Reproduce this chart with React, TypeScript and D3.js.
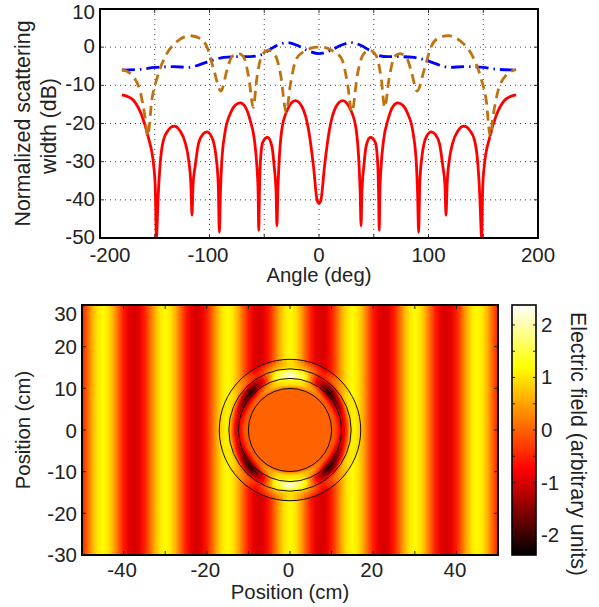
import React from "react";
import * as d3 from "d3";

// ---------- top panel data (left half, mirrored about 0 deg) ----------
const redAngles = [-180,-175,-169.5,-162,-156,-151,-149.5,-148.5,-147.5,-147,-145,-142,-137.5,-132.3,-127,-122,-119,-117,-116,-115,-113,-110,-106,-102.5,-98,-94,-92,-91,-90,-89,-86,-81,-76.5,-72,-67.4,-63,-59,-56.7,-55.6,-55,-54.4,-53.7,-51.5,-47,-43,-41,-39.2,-38.4,-37.6,-36.6,-34,-29,-21.6,-15.5,-9.5,-5,-1.8,0];
const redDb = [-12.5,-12.9,-13.9,-17.8,-23.5,-31,-37,-50,-44,-40,-30.4,-24.3,-21.7,-20.7,-21.9,-25.2,-29.6,-36,-44,-36,-31,-25.2,-22.8,-22.2,-23.5,-28.7,-36,-48.5,-38,-31,-22.6,-17.4,-15.2,-14.6,-15.6,-19,-24.3,-31.3,-38,-48,-38,-31,-25,-23.6,-26,-31,-38,-46.8,-38,-31,-21.7,-16.5,-14,-15.6,-21.7,-31.3,-40,-40.9];
const blueAngles = [-180,-163,-150,-133,-119,-110,-99.4,-87,-75,-63,-53.7,-46,-38,-29,-20,-11,0];
const blueDb = [-6,-5.8,-5.3,-5.1,-5.3,-4.7,-3.6,-2.7,-2.5,-2.5,-2.1,-0.8,0.5,1.2,0.5,-0.8,-1.7];
const brownAngles = [-180,-171,-163,-159,-156.4,-152.7,-148,-139,-130,-118,-108.5,-102.4,-96,-89.6,-84,-79.6,-73.5,-69,-64,-60,-57,-52,-46,-40,-35,-30,-26,-20.6,-11.5,-2.3,0];
const brownDb = [-5.8,-7.3,-12,-18,-23.3,-13.9,-8.2,-1.7,1.4,3,2.3,0.1,-6,-11.5,-6,-2.5,-1.7,-2.5,-8.2,-15.8,-8.6,-2.1,-0.8,-2.1,-7.3,-17,-9.5,-3,-0.8,0,0];
const angleTickLabels = [-200,-100,0,100,200];
const angleGrid = [-150,-100,-50,0,50,100,150];
const dbTicks = [10,0,-10,-20,-30,-40,-50];

// ---------- bottom panel data ----------
// field read across the stripes, every 1.25 cm from -50 cm to +50 cm
const stripeStep = 1.25;
const stripeField = [
  -0.55,0,0.59,1.02,1.18,1.02,0.59,0,-0.55,-0.9,-1.02,-0.9,
  -0.55,0,0.59,1.02,1.18,1.02,0.59,0,-0.55,-0.9,-1.02,-0.9,
  -0.55,0,0.59,1.02,1.18,1.02,0.59,0,-0.55,-0.9,-1.02,-0.9,
  -0.55,0,0.59,1.02,1.18,1.02,0.59,0,-0.55,-0.9,-1.02,-0.9,
  -0.55,0,0.59,1.02,1.18,1.02,0.59,0,-0.55,-0.9,-1.02,-0.9,
  -0.55,0,0.59,1.02,1.18,1.02,0.59,0,-0.55,-0.9,-1.02,-0.9,
  -0.55,0,0.59,1.02,1.18,1.02,0.59,0,-0.55,
];
const ringRadii = [10,11,12,13,14,14.7,15.5,17];
const ringAngles = [0,15,30,45,60,75,90];
const ringField = [
  [0,0,0,0,0,0,0],
  [-0.1,-0.1,-0.1,0.1,0.5,0.9,1.0],
  [-0.7,-0.8,-1.1,-1.0,0.1,1.0,1.15],
  [-1.0,-1.1,-1.7,-2.35,-1.0,1.5,2.35],
  [0.0,-0.1,-0.8,-1.7,-1.0,1.2,2.0],
  [0.9,0.8,0.4,-0.5,-0.7,0.8,1.2],
  [1.15,1.15,0.9,0.2,-0.5,0.4,0.95],
  [0.74,0.92,1.09,0.34,-0.95,-0.3,1.1],
];
const circleRadii = [10,12.4,14.7,17];
const posXTicks = [-40,-20,0,20,40];
const posXMinor = [-40,-30,-20,-10,0,10,20,30,40];
const posYTicks = [30,20,10,0,-10,-20,-30];
const barTicks = [2,1,0,-1,-2];
const barMinor = [2,1.5,1,0.5,0,-0.5,-1,-1.5,-2];
const hotDomain = [-2.38,-0.75,1.2,2.38];
const hotRange = ["#000000","#ff0000","#ffff00","#ffffff"];

const FONT = "'Liberation Sans', Arial, sans-serif";
const INK = "#222";
const FS = 20.5;
const LS = 21.3;

export default function App() {
  const ax = d3.scaleLinear().domain([-200,200]).range([100,538]);
  const ay = d3.scaleLinear().domain([-50,10]).range([238,9]);
  const mirror = (xs: number[]) => [...xs, ...xs.slice(0,-1).reverse().map(v => -v)];
  const mirrorY = (ys: number[]) => [...ys, ...ys.slice(0,-1).reverse()];
  const line = d3.line<[number,number]>().x(d => ax(d[0])).y(d => ay(d[1])).curve(d3.curveMonotoneX);
  const path = (xs: number[], ys: number[]) => {
    const X = mirror(xs), Y = mirrorY(ys);
    return line(X.map((v,i) => [v,Y[i]] as [number,number])) as string;
  };

  const px = d3.scaleLinear().domain([-50,50]).range([82,498]);
  const py = d3.scaleLinear().domain([-30,30]).range([555,305]);
  const rs = d3.scaleLinear().domain([0,50]).range([0,208]);
  const hot = d3.scaleLinear<string>().domain(hotDomain).range(hotRange).clamp(true);
  const by = d3.scaleLinear().domain([-2.38,2.38]).range([555,305]);

  // annular cells built from the polar field table
  const cells: {d:string; fill:string}[] = [];
  const arc = d3.arc();
  const rLookup = d3.scaleLinear().domain(ringRadii).range(ringRadii.map((_,i)=>i));
  const dr = 0.25, dth = 3;
  for (let r = 10; r < 17; r += dr) {
    for (let th = 0; th < 90; th += dth) {
      const rm = r + dr/2, tm = th + dth/2;
      const ri = rLookup(rm), i0 = Math.min(Math.floor(ri), ringRadii.length-2), fr = ri - i0;
      const ti = tm/15, j0 = Math.min(Math.floor(ti), ringAngles.length-2), ft = ti - j0;
      const v = (1-fr)*((1-ft)*ringField[i0][j0] + ft*ringField[i0][j0+1]) + fr*((1-ft)*ringField[i0+1][j0] + ft*ringField[i0+1][j0+1]);
      const fill = hot(v);
      const a0 = (90-th-dth)*Math.PI/180, a1 = (90-th)*Math.PI/180;
      const quads: [number,number][] = [[a0,a1],[-a1,-a0],[Math.PI-a1,Math.PI-a0],[Math.PI+a0,Math.PI+a1]];
      for (const [s,e] of quads) {
        cells.push({ d: arc({innerRadius: rs(r), outerRadius: rs(r+dr), startAngle: s, endAngle: e}) as string, fill });
      }
    }
  }
  const cx = px(0), cy = py(0);
  const angleLabelX = (t: number) => t === -200 ? 110 : ax(t) - (t < 0 ? 1.5 : 0);

  return (
    <svg width={599} height={607} style={{position:"absolute",left:0,top:0,background:"#fff"}} fontFamily={FONT} fontSize={FS} fill={INK}>
      <defs>
        <linearGradient id="stripes" gradientUnits="userSpaceOnUse" x1={px(-50)} x2={px(50)} y1={0} y2={0}>
          {stripeField.map((v,i) => <stop key={i} offset={i*stripeStep/100} stopColor={hot(v)} />)}
        </linearGradient>
        <linearGradient id="bar" gradientUnits="userSpaceOnUse" x1={0} x2={0} y1={by(2.38)} y2={by(-2.38)}>
          {hotDomain.slice().reverse().map((v,i) => <stop key={i} offset={(2.38-v)/4.76} stopColor={hot(v)} />)}
        </linearGradient>
        <clipPath id="topClip"><rect x={100} y={9} width={438} height={229} /></clipPath>
      </defs>

      {/* top panel */}
      {angleGrid.map(t => <line key={t} x1={ax(t)} x2={ax(t)} y1={9} y2={238} stroke="#444" strokeWidth={1} strokeDasharray="1 4" />)}
      {dbTicks.slice(1,-1).map(t => <line key={t} x1={100} x2={538} y1={ay(t)} y2={ay(t)} stroke="#444" strokeWidth={1} strokeDasharray="1 4" />)}
      <g clipPath="url(#topClip)" fill="none" strokeLinejoin="round">
        <path d={path(redAngles,redDb)} stroke="#ff0000" strokeWidth={2.8} />
        <path d={path(blueAngles,blueDb)} stroke="#0000ff" strokeWidth={2.8} strokeDasharray="13 5 1.5 5" />
        <path d={path(brownAngles,brownDb)} stroke="#c0720f" strokeWidth={2.8} strokeDasharray="10 6" />
      </g>
      {angleGrid.map(t => <g key={t} stroke="#333" strokeWidth={1}>
        <line x1={ax(t)} x2={ax(t)} y1={238} y2={234} />
        <line x1={ax(t)} x2={ax(t)} y1={9} y2={13} />
      </g>)}
      {dbTicks.slice(1,-1).map(t => <g key={t} stroke="#333" strokeWidth={1}>
        <line x1={100} x2={104} y1={ay(t)} y2={ay(t)} />
        <line x1={538} x2={534} y1={ay(t)} y2={ay(t)} />
      </g>)}
      <rect x={100} y={9} width={438} height={229} fill="none" stroke="#000" strokeWidth={2} />
      {dbTicks.map(t => <text key={t} x={95} y={ay(t)+(t===10?10:6)} textAnchor="end">{t}</text>)}
      {angleTickLabels.map(t => <text key={t} x={angleLabelX(t)} y={262} textAnchor="middle">{t}</text>)}
      <text x={319} y={282} textAnchor="middle" fontSize={LS-1}>Angle (deg)</text>
      <text transform="translate(30,123.5) rotate(-90)" textAnchor="middle" fontSize={LS}>Normalized scattering</text>
      <text transform="translate(56,126) rotate(-90)" textAnchor="middle" fontSize={LS}>width (dB)</text>

      {/* bottom panel */}
      <rect x={82} y={305} width={416} height={250} fill="url(#stripes)" />
      <g>{cells.map((c,i) => <path key={i} transform={`translate(${cx},${cy})`} d={c.d} fill={c.fill} stroke={c.fill} strokeWidth={0.6} />)}</g>
      <circle cx={cx} cy={cy} r={rs(10)} fill={hot(0)} />
      {circleRadii.map(r => <circle key={r} cx={cx} cy={cy} r={rs(r)} fill="none" stroke="#111" strokeWidth={1} />)}
      {posXMinor.map(t => <g key={t} stroke="#222" strokeWidth={1}>
        <line x1={px(t)} x2={px(t)} y1={555} y2={551} />
        <line x1={px(t)} x2={px(t)} y1={305} y2={309} />
      </g>)}
      {posYTicks.slice(1,-1).map(t => <g key={t} stroke="#222" strokeWidth={1}>
        <line x1={82} x2={86} y1={py(t)} y2={py(t)} />
        <line x1={498} x2={494} y1={py(t)} y2={py(t)} />
      </g>)}
      <rect x={82} y={305} width={416} height={250} fill="none" stroke="#000" strokeWidth={2} />
      {posYTicks.map(t => <text key={t} x={77} y={t===30?321:t===-30?562:py(t)+7.5} textAnchor="end">{t}</text>)}
      {posXTicks.map(t => <text key={t} x={px(t)-1.5} y={577} textAnchor="middle">{t}</text>)}
      <text x={px(0)} y={599} textAnchor="middle" fontSize={LS-1}>Position (cm)</text>
      <text transform="translate(30,430) rotate(-90)" textAnchor="middle" fontSize={LS-1}>Position (cm)</text>

      {/* colour bar */}
      <rect x={512} y={305} width={24} height={250} fill="url(#bar)" />
      {barMinor.map(t => <g key={t} stroke="#222" strokeWidth={1}>
        <line x1={512} x2={515} y1={by(t)} y2={by(t)} />
        <line x1={536} x2={533} y1={by(t)} y2={by(t)} />
      </g>)}
      <rect x={512} y={305} width={24} height={250} fill="none" stroke="#000" strokeWidth={1.6} />
      {barTicks.map(t => <text key={t} x={541} y={by(t)+7}>{t}</text>)}
      <text transform="translate(571,312) rotate(90)" fontSize={LS}>Electric field (arbitrary units)</text>
    </svg>
  );
}
